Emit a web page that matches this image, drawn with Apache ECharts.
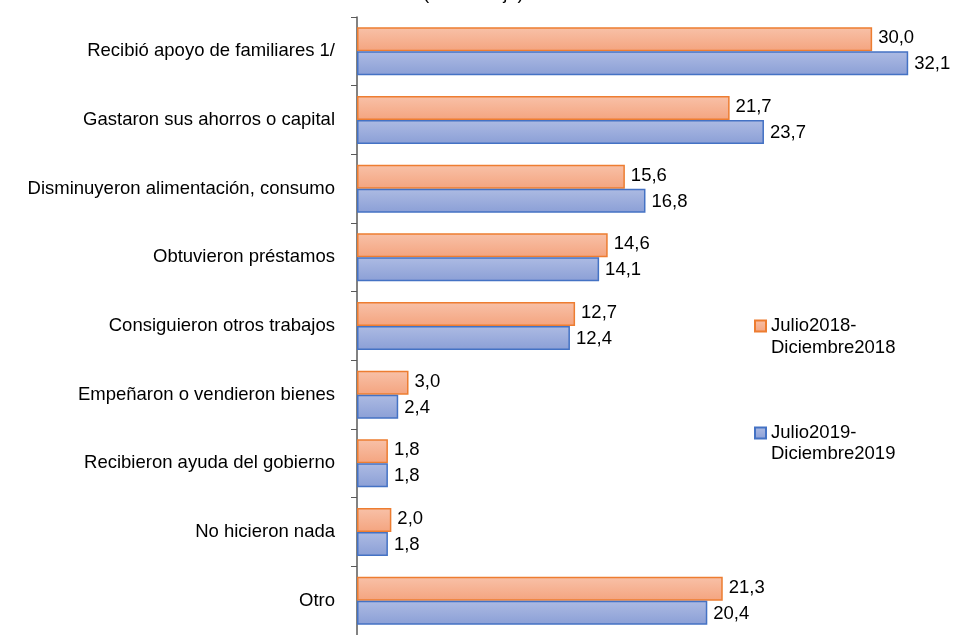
<!DOCTYPE html>
<html><head><meta charset="utf-8">
<script src="https://cdn.jsdelivr.net/npm/echarts@6/dist/echarts.min.js"></script>
<style>html,body{margin:0;padding:0;background:#fff}#c{width:959px;height:635px}</style>
</head><body><div id="c"></div>
<script>
const categories = ['Recibió apoyo de familiares 1/','Gastaron sus ahorros o capital','Disminuyeron alimentación, consumo','Obtuvieron préstamos','Consiguieron otros trabajos','Empeñaron o vendieron bienes','Recibieron ayuda del gobierno','No hicieron nada','Otro'];
const seriesNames = ['Julio2018-\nDiciembre2018','Julio2019-\nDiciembre2019'];
const values2018 = [30.0,21.7,15.6,14.6,12.7,3.0,1.8,2.0,21.3];
const values2019 = [32.1,23.7,16.8,14.1,12.4,2.4,1.8,1.8,20.4];
const subtitle = '(Porcentaje)';

const FF = 'Liberation Sans, Arial, sans-serif';
const chart = echarts.init(document.getElementById('c'));
const fmt = p => p.value.toFixed(1).replace('.', ',');
const lbl = {show:true, position:'right', distance:6, color:'#000', fontSize:18.5, fontFamily:FF, formatter:fmt};
const legText = {fontSize:18.5, color:'#000', lineHeight:22, fontFamily:FF};
const firstLine = n => n.split('\n')[0];
const secondLine = n => n.split('\n')[1];
chart.setOption({
  animation:false,
  title:{text:subtitle, left:418, top:-21, textStyle:{fontSize:18.5, fontWeight:'normal', color:'#000', fontFamily:FF}},
  grid:{left:357, top:17, width:601, height:622, containLabel:false},
  xAxis:{type:'value', min:0, max:35, show:false},
  yAxis:{type:'category', data:categories, inverse:true,
    axisLine:{show:true, lineStyle:{color:'#595959', width:1.5}},
    axisTick:{show:true, alignWithLabel:false, length:6, lineStyle:{color:'#595959'}},
    axisLabel:{color:'#000', fontSize:18.5, margin:22, fontFamily:FF}},
  legend:[
    {orient:'vertical', left:749, top:310, icon:'rect', itemWidth:11, itemHeight:11, itemGap:10,
     formatter:firstLine, textStyle:legText, data:[seriesNames[0]]},
    {orient:'vertical', left:749, top:417, icon:'rect', itemWidth:11, itemHeight:11, itemGap:10,
     formatter:firstLine, textStyle:legText, data:[seriesNames[1]]}
  ],
  graphic:[
    {type:'text', left:771, top:338, style:{text:secondLine(seriesNames[0]), fill:'#000', font:'18.5px ' + FF}},
    {type:'text', left:771, top:444, style:{text:secondLine(seriesNames[1]), fill:'#000', font:'18.5px ' + FF}}
  ],
  series:[
    {name:seriesNames[0], type:'bar', data:values2018, barGap:'0%', barCategoryGap:'30%',
     itemStyle:{color:new echarts.graphic.LinearGradient(0,0,0,1,[{offset:0,color:'#f8c1a8'},{offset:1,color:'#f4a47f'}]), borderColor:'#ed7d31', borderWidth:1.5},
     label:Object.assign({}, lbl, {offset:[0,-1]})},
    {name:seriesNames[1], type:'bar', data:values2019,
     itemStyle:{color:new echarts.graphic.LinearGradient(0,0,0,1,[{offset:0,color:'#adbbe3'},{offset:1,color:'#8b9fd6'}]), borderColor:'#4472c4', borderWidth:1.5},
     label:Object.assign({}, lbl, {offset:[0,1]})}
  ]
});
</script></body></html>
